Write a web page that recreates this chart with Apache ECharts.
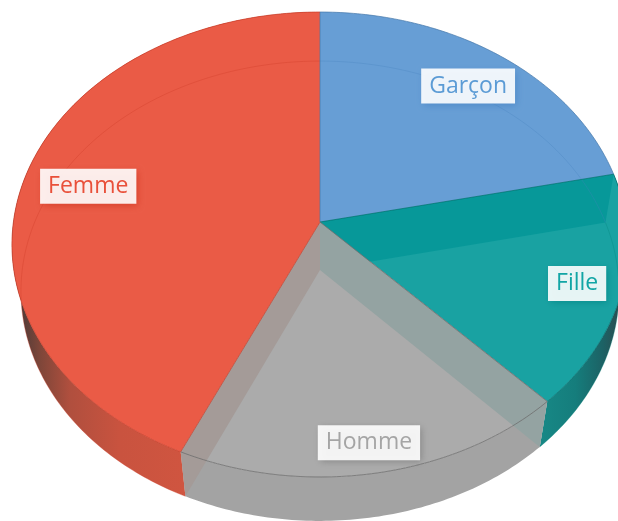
<!DOCTYPE html>
<html>
<head>
<meta charset="utf-8">
<style>
html, body { margin: 0; padding: 0; background: #fff; }
#main { width: 618px; height: 521px; }
</style>
<script src="https://cdn.jsdelivr.net/npm/echarts@6/dist/echarts.min.js"></script>
</head>
<body>
<div id="main"></div>
<script>
var sliceNames = ['Garçon', 'Fille', 'Homme', 'Femme'];
var sliceValues = [21.6, 16.3, 18.9, 43.2];

// perspective of the disc: top plane and bottom plane
var topPlane = {cx: 320, cy: 222, a: 306.6, b: 230.3, k: 0.0968};
var botPlane = {cx: 320, cy: 270, a: 297.8, b: 228, k: 0.0913};

var sliceStyles = [
    {face: '#679ed5', line: 'rgba(70,120,170,0.7)', ghost: 'rgba(70,130,190,0.3)', text: '#5b9bd5', shade: 'rgba(70,130,195,0.75)', reach: 0.817},
    {face: '#19a2a2', line: 'rgba(0,110,110,0.7)', ghost: 'rgba(0,130,120,0.3)', text: '#12a5a5', shade: 'rgba(0,130,130,0.75)', reach: 0.856,
        startWall: '#079899',
        rim: [[0, '#178886'], [0.45, '#157d7c'], [0.8, '#1c6265'], [1, '#2a4f52']], rimX: [541, 618]},
    {face: '#ababab', line: 'rgba(110,110,110,0.8)', text: '#a5a5a5', shade: 'rgba(90,90,90,0.5)', reach: 0.882,
        startWall: '#94a3a2', startWallLow: '#7f8f8e', endWall: '#a49b98',
        rim: [[0, '#a3a3a3'], [1, '#a3a3a3']], rimX: [186, 541]},
    {face: '#ea5b46', line: 'rgba(200,60,40,0.7)', ghost: 'rgba(205,60,40,0.35)', text: '#e9503a', shade: 'rgba(205,50,30,0.75)', reach: 0.786,
        rim: [[0, '#4f3b38'], [0.12, '#7e4639'], [0.3, '#b04f3e'], [0.6, '#c9533f'], [1, '#d05540']], rimX: [20, 186]}
];

function project(plane, theta, r) {
    var X = Math.sin(theta) * r;
    var Y = -Math.cos(theta) * r;
    var w = 1 - plane.k * Y;
    return [plane.cx + plane.a * X / w, plane.cy + plane.b * Y / w];
}

function arc(plane, from, to) {
    var pts = [];
    var n = Math.max(2, Math.ceil(Math.abs(to - from) / 0.015));
    for (var i = 0; i <= n; i++) {
        pts.push(project(plane, from + (to - from) * i / n, 1));
    }
    return pts;
}

var total = 0;
for (var t = 0; t < sliceValues.length; t++) {
    total += sliceValues[t];
}

function poly(points, fill, z2) {
    return {type: 'polygon', z2: z2, shape: {points: points}, style: {fill: fill}, silent: true};
}

function stroke(points, color, z2) {
    return {type: 'polyline', z2: z2, shape: {points: points}, style: {fill: null, stroke: color, lineWidth: 1}, silent: true};
}

function wallPoints(theta) {
    return [project(topPlane, theta, 0), project(topPlane, theta, 1), project(botPlane, theta, 1), project(botPlane, theta, 0)];
}

function renderSlice(params, api) {
    var i = params.dataIndex;
    var st = sliceStyles[i];
    var before = 0;
    for (var j = 0; j < i; j++) {
        before += sliceValues[j];
    }
    var from = before / total * Math.PI * 2;
    var to = (before + api.value(0)) / total * Math.PI * 2;
    var mid = (from + to) / 2;
    var topArc = arc(topPlane, from, to);
    var botArc = arc(botPlane, from, to);
    var centre = project(topPlane, 0, 0);
    var kids = [];

    if (st.rim) {
        kids.push(poly(topArc.concat(botArc.slice().reverse()), {
            type: 'linear', global: true, x: st.rimX[0], y: 0, x2: st.rimX[1], y2: 0,
            colorStops: st.rim.map(function (s) { return {offset: s[0], color: s[1]}; })
        }, 1));
    }
    kids.push(poly([centre].concat(topArc), st.face, 2));

    if (st.startWall) {
        kids.push(poly(wallPoints(from), st.startWall, i + 2));
    }
    if (st.endWall) {
        kids.push(poly(wallPoints(to), st.endWall, i + 2));
    }
    if (st.startWallLow) {
        // piece of that wall that hangs below the top rim
        var w = wallPoints(from);
        var low = [w[1], w[2]];
        var ax = w[2][0], ay = w[2][1], bx = w[3][0], by = w[3][1];
        for (var q = 0; q < topArc.length; q++) {
            var p = topArc[q];
            var side = (bx - ax) * (p[1] - ay) - (by - ay) * (p[0] - ax);
            if (side > 0) {
                break;
            }
            low.unshift(p);
        }
        kids.push(poly(low, st.startWallLow, 5));
    }

    // bottom rim showing through the top
    if (st.ghost) {
        kids.push(stroke(botArc, st.ghost, 6));
    }
    // edges
    kids.push(stroke(topArc, st.line, 7));
    kids.push(stroke([centre, topArc[0]], st.line, 7));

    var c = project(topPlane, mid, st.reach);
    kids.push({
        type: 'text', z2: 11, silent: true,
        x: c[0], y: c[1] + 2,
        style: {
            text: sliceNames[i], fill: st.text,
            font: '23px "Open Sans"',
            align: 'center', verticalAlign: 'middle',
            backgroundColor: 'rgba(255,255,255,0.9)',
            padding: [6, 8, 6, 8],
            shadowColor: st.shade, shadowBlur: 7, shadowOffsetX: 2, shadowOffsetY: 2
        }
    });
    return {type: 'group', children: kids};
}

var chart = echarts.init(document.getElementById('main'), null, {renderer: 'canvas'});
var option = {
    animation: false,
    backgroundColor: '#ffffff',
    series: [{
        type: 'custom',
        coordinateSystem: 'none',
        clip: false,
        silent: true,
        renderItem: renderSlice,
        data: sliceValues.map(function (v, idx) {
            return {name: sliceNames[idx], value: [v]};
        })
    }]
};
chart.setOption(option);
</script>
</body>
</html>
